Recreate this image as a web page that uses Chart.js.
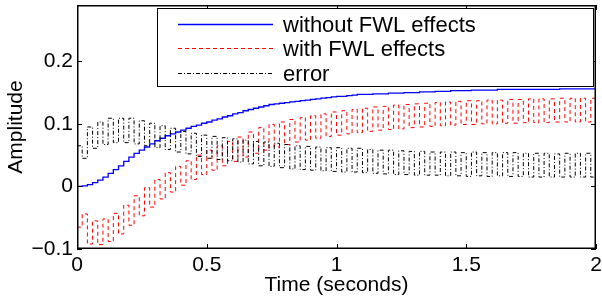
<!DOCTYPE html>
<html>
<head>
<meta charset="utf-8">
<title>Step response with and without FWL effects</title>
<script src="https://cdn.jsdelivr.net/npm/chart.js@4.4.1/dist/chart.umd.min.js"></script>
<style>
  html, body { margin: 0; padding: 0; background: #ffffff; }
  #wrap { width: 602px; height: 298px; }
</style>
</head>
<body>
<div id="wrap"><canvas id="stepChart" width="602" height="298"></canvas></div>
<script>
// --- DATA (one value per sample) ---
const sampleTime = 0.02; // seconds between samples

const seriesNames = ['without FWL effects', 'with FWL effects', 'error'];
const seriesColors = ['#0000ff', '#ff0000', '#000000'];

const withoutFwl = [
  0, 0.001, 0.003, 0.006, 0.010, 0.015, 0.021, 0.027, 0.033, 0.040,
  0.047, 0.053, 0.058, 0.063, 0.068, 0.073, 0.077, 0.081, 0.084, 0.087,
  0.090, 0.093, 0.096, 0.098, 0.101, 0.103, 0.106, 0.108, 0.111, 0.113,
  0.116, 0.118, 0.121, 0.123, 0.125, 0.127, 0.129, 0.131, 0.132, 0.133,
  0.134, 0.135, 0.136, 0.137, 0.138, 0.139, 0.140, 0.141, 0.142, 0.143,
  0.144, 0.144, 0.145, 0.146, 0.147, 0.147, 0.147, 0.148, 0.148, 0.148,
  0.149, 0.149, 0.149, 0.150, 0.150, 0.150, 0.151, 0.151, 0.151, 0.152,
  0.152, 0.152, 0.153, 0.153, 0.153, 0.153, 0.154, 0.154, 0.154, 0.154,
  0.154, 0.155, 0.155, 0.155, 0.155, 0.155, 0.155, 0.155, 0.155, 0.155,
  0.155, 0.155, 0.155, 0.156, 0.156, 0.156, 0.156, 0.156, 0.156, 0.156, 0.156
];

const withFwl = [
  -0.065, -0.044, -0.092, -0.055, -0.093, -0.052, -0.088, -0.043, -0.076, -0.030,
  -0.062, -0.015, -0.047, -0.002, -0.033, 0.011, -0.020, 0.022, -0.009, 0.032,
  0.002, 0.041, 0.011, 0.050, 0.019, 0.058, 0.026, 0.065, 0.033, 0.072,
  0.040, 0.079, 0.047, 0.087, 0.053, 0.094, 0.058, 0.099, 0.063, 0.103,
  0.067, 0.107, 0.071, 0.110, 0.074, 0.113, 0.077, 0.116, 0.080, 0.119,
  0.082, 0.121, 0.084, 0.123, 0.086, 0.125, 0.088, 0.127, 0.090, 0.128,
  0.091, 0.130, 0.092, 0.131, 0.094, 0.132, 0.095, 0.133, 0.096, 0.134,
  0.097, 0.135, 0.098, 0.136, 0.099, 0.137, 0.099, 0.137, 0.100, 0.138,
  0.100, 0.138, 0.101, 0.139, 0.101, 0.139, 0.102, 0.140, 0.102, 0.140,
  0.102, 0.140, 0.103, 0.141, 0.103, 0.141, 0.103, 0.141, 0.103, 0.141, 0.103
];

const fwlError = [
  0.065, 0.045, 0.095, 0.061, 0.103, 0.067, 0.109, 0.070, 0.109, 0.070,
  0.109, 0.068, 0.105, 0.065, 0.101, 0.062, 0.097, 0.059, 0.093, 0.055,
  0.088, 0.052, 0.085, 0.048, 0.082, 0.045, 0.080, 0.043, 0.078, 0.041,
  0.076, 0.039, 0.074, 0.036, 0.072, 0.033, 0.071, 0.032, 0.069, 0.030,
  0.067, 0.028, 0.065, 0.027, 0.064, 0.026, 0.063, 0.025, 0.062, 0.024,
  0.062, 0.023, 0.061, 0.023, 0.061, 0.022, 0.059, 0.021, 0.058, 0.020,
  0.058, 0.019, 0.057, 0.019, 0.056, 0.018, 0.056, 0.018, 0.055, 0.018,
  0.055, 0.017, 0.055, 0.017, 0.054, 0.016, 0.055, 0.017, 0.054, 0.016,
  0.054, 0.017, 0.054, 0.016, 0.054, 0.016, 0.053, 0.015, 0.053, 0.015,
  0.053, 0.015, 0.052, 0.015, 0.053, 0.015, 0.053, 0.015, 0.053, 0.015, 0.053
];

const xTickValues = [0, 0.5, 1, 1.5, 2];
const xTickLabels = ['0', '0.5', '1', '1.5', '2'];
const yTickValues = [-0.1, 0, 0.1, 0.2];
const yTickLabels = ['\u22120.1', '0', '0.1', '0.2'];

function toPoints(values) {
  return values.map((v, i) => ({ x: i * sampleTime, y: v }));
}

// --- MATLAB STYLE BOX, INWARD TICKS AND LEGEND ---
const matlabFrame = {
  id: 'matlabFrame',
  afterDatasetsDraw(chart) {
    const { ctx, chartArea: a, scales: { x, y } } = chart;
    ctx.save();
    ctx.strokeStyle = '#000';
    ctx.lineWidth = 1;
    ctx.beginPath();
    xTickValues.forEach(v => {
      const px = Math.round(x.getPixelForValue(v)) + 0.5;
      ctx.moveTo(px, a.bottom); ctx.lineTo(px, a.bottom - 5);
      ctx.moveTo(px, a.top); ctx.lineTo(px, a.top + 5);
    });
    yTickValues.forEach(v => {
      const py = Math.round(y.getPixelForValue(v)) + 0.5;
      ctx.moveTo(a.left, py); ctx.lineTo(a.left + 5, py);
      ctx.moveTo(a.right, py); ctx.lineTo(a.right - 5, py);
    });
    ctx.stroke();
    ctx.lineWidth = 1.5;
    ctx.strokeRect(a.left + 0.75, a.top + 0.75, a.right - a.left - 1.5, a.bottom - a.top - 1.5);

    // legend box in the top right corner
    const lx = a.left + 80, ly = a.top + 3;
    const lw = a.right - 3 - lx, lh = 78;
    ctx.fillStyle = '#fff';
    ctx.fillRect(lx, ly, lw, lh);
    ctx.lineWidth = 1;
    ctx.strokeStyle = '#000';
    ctx.strokeRect(lx + 0.5, ly + 0.5, lw, lh);
    ctx.font = "22px 'Liberation Sans', Arial, sans-serif";
    ctx.textBaseline = 'middle';
    chart.data.datasets.forEach((ds, i) => {
      const rowY = Math.round(ly + 16 + i * 24.3) + 0.5;
      ctx.strokeStyle = seriesColors[i];
      ctx.lineWidth = ds.borderWidth || 1;
      ctx.setLineDash(ds.borderDash || []);
      ctx.beginPath();
      ctx.moveTo(lx + 21, rowY);
      ctx.lineTo(lx + 116, rowY);
      ctx.stroke();
      ctx.setLineDash([]);
      ctx.fillStyle = '#000';
      ctx.fillText(seriesNames[i], lx + 126, rowY + 1);
    });
    ctx.restore();
  }
};

Chart.defaults.font.family = "'Liberation Sans', Arial, sans-serif";
Chart.defaults.font.size = 21;
Chart.defaults.color = '#000';

const ctx = document.getElementById('stepChart').getContext('2d');
const stepChart = new Chart(ctx, {
  type: 'line',
  data: {
    datasets: [
      { label: seriesNames[0], data: toPoints(withoutFwl), borderColor: seriesColors[0], borderWidth: 1.3, order: 2 },
      { label: seriesNames[1], data: toPoints(withFwl), borderColor: seriesColors[1], borderWidth: 1, borderDash: [4, 3], order: 1 },
      { label: seriesNames[2], data: toPoints(fwlError), borderColor: seriesColors[2], borderWidth: 1, borderDash: [4, 2, 1, 2], order: 0 }
    ]
  },
  options: {
    responsive: false,
    animation: false,
    layout: { padding: { left: 0, right: 6, top: 5, bottom: 0 } },
    elements: {
      line: { stepped: true, tension: 0, fill: false },
      point: { radius: 0 }
    },
    plugins: {
      legend: { display: false },
      tooltip: { enabled: false }
    },
    scales: {
      x: {
        type: 'linear',
        min: 0,
        max: 2,
        afterFit: s => { s.height = 49; s.paddingLeft = 0; s.paddingRight = 0; },
        afterBuildTicks: s => { s.ticks = xTickValues.map(v => ({ value: v })); },
        grid: { display: false, drawTicks: false },
        border: { display: false },
        ticks: { padding: 4, maxRotation: 0, callback: (v, i) => xTickLabels[i] },
        title: { display: true, text: 'Time (seconds)', padding: { top: 0, bottom: 0 } }
      },
      y: {
        type: 'linear',
        min: -0.1,
        max: 0.29,
        afterFit: s => { s.width = 77; s.paddingTop = 0; s.paddingBottom = 0; },
        afterBuildTicks: s => { s.ticks = yTickValues.map(v => ({ value: v })); },
        grid: { display: false, drawTicks: false },
        border: { display: false },
        ticks: { padding: 4, callback: (v, i) => yTickLabels[i] },
        title: { display: true, text: 'Amplitude', padding: { top: 4, bottom: 0 } }
      }
    }
  },
  plugins: [matlabFrame]
});
</script>
</body>
</html>
